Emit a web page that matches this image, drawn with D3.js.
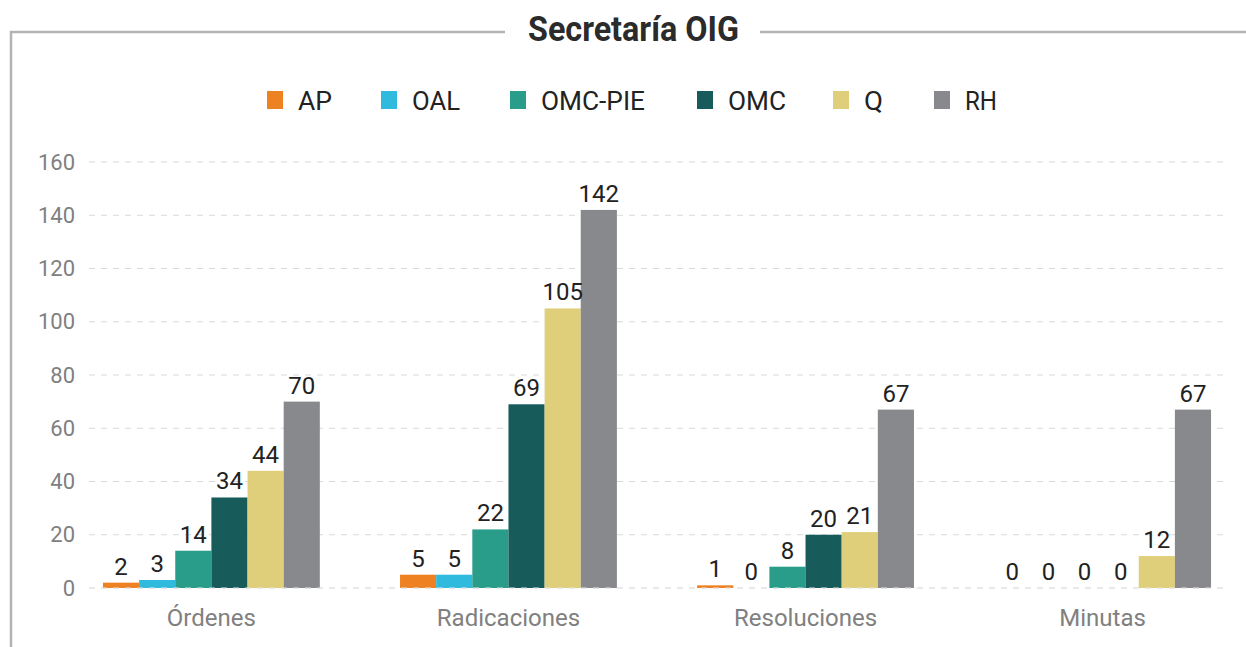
<!DOCTYPE html>
<html>
<script src="https://d3js.org/d3.v7.min.js"></script>
<style>
    body { margin: 0; background: #fff; }
    text { font-family: Roboto, "Liberation Sans", sans-serif; }
</style>
<body>
<svg width="1246" height="647"></svg>
<script>
    const categories = ['Órdenes', 'Radicaciones', 'Resoluciones', 'Minutas'];
    const seriesNames = ['AP', 'OAL', 'OMC-PIE', 'OMC', 'Q', 'RH'];
    const seriesColors = ['#ee8122', '#2fbade', '#2a9c8a', '#175c5a', '#e0cf7a', '#88898d'];
    const apValues = [2, 5, 1, 0];
    const oalValues = [3, 5, 0, 0];
    const omcPieValues = [14, 22, 8, 0];
    const omcValues = [34, 69, 20, 0];
    const qValues = [44, 105, 21, 12];
    const rhValues = [70, 142, 67, 67];
    const yTicks = [0, 20, 40, 60, 80, 100, 120, 140, 160];

    const seriesValues = [apValues, oalValues, omcPieValues, omcValues, qValues, rhValues];

    const svg = d3.select('svg');

    // frame and title
    svg.append('path')
        .attr('d', 'M505,32 H11 V647')
        .attr('fill', 'none').attr('stroke', '#b3b3b5').attr('stroke-width', 2.5);
    svg.append('line')
        .attr('x1', 760).attr('x2', 1246).attr('y1', 32).attr('y2', 32)
        .attr('stroke', '#b3b3b5').attr('stroke-width', 2.5);
    svg.append('text')
        .attr('x', 528).attr('y', 41)
        .attr('textLength', 211).attr('lengthAdjust', 'spacingAndGlyphs')
        .style('font-weight', 'bold')
        .style('font-size', '35px')
        .attr('fill', '#2b2b2b')
        .text('Secretaría OIG');

    const y = d3.scaleLinear().domain([0, 160]).range([588, 162]);
    const x0 = d3.scaleBand().domain(categories).range([89, 1225])
        .paddingInner(0.27).paddingOuter(0.047);
    const x1 = d3.scaleBand().domain(seriesNames).range([0, x0.bandwidth()]);

    // gridlines
    svg.append('g').selectAll('line')
        .data(yTicks).enter().append('line')
        .attr('x1', 89).attr('x2', 1225)
        .attr('y1', d => y(d)).attr('y2', d => y(d))
        .attr('stroke', '#d9d9d9').attr('stroke-width', 1.2)
        .attr('stroke-dasharray', '6,6');

    // y axis labels
    const yAxis = svg.append('g').attr('transform', 'translate(89,0)')
        .call(d3.axisLeft(y).tickValues(yTicks).tickSize(0).tickPadding(14));
    yAxis.select('.domain').remove();
    yAxis.selectAll('text')
        .style('font-size', '22px').attr('fill', '#808080')
        .style('font-family', 'Roboto, sans-serif');

    // bars
    const groups = svg.append('g').selectAll('g')
        .data(categories).enter().append('g')
        .attr('transform', d => 'translate(' + x0(d) + ',0)');

    groups.selectAll('rect')
        .data((c, ci) => seriesNames.map((s, si) => ({ s: s, si: si, v: seriesValues[si][ci] })))
        .enter().append('rect')
        .attr('x', d => x1(d.s))
        .attr('width', x1.bandwidth())
        .attr('y', d => y(d.v))
        .attr('height', d => y(0) - y(d.v))
        .attr('fill', d => seriesColors[d.si]);

    groups.selectAll('text.val')
        .data((c, ci) => seriesNames.map((s, si) => ({ s: s, si: si, v: seriesValues[si][ci] })))
        .enter().append('text')
        .attr('class', 'val')
        .attr('x', d => x1(d.s) + x1.bandwidth() / 2)
        .attr('y', d => y(d.v) - 8)
        .attr('text-anchor', 'middle')
        .style('font-size', '24px')
        .attr('fill', '#222')
        .text(d => d.v);

    // zero line dashes over bars
    svg.append('line')
        .attr('x1', 89).attr('x2', 1225).attr('y1', y(0)).attr('y2', y(0))
        .attr('stroke', '#e6e6e6').attr('stroke-width', 1.2)
        .attr('stroke-dasharray', '6,6');

    // category labels
    const xAxis = svg.append('g').attr('transform', 'translate(0,' + y(0) + ')')
        .call(d3.axisBottom(x0).tickSize(0).tickPadding(21));
    xAxis.select('.domain').remove();
    xAxis.selectAll('text')
        .style('font-size', '24px').attr('fill', '#808080')
        .style('font-family', 'Roboto, sans-serif');

    // legend
    const legendX = [267, 381, 510, 697, 833, 934];
    const legendTextW = [34, 48, 104, 58, 19, 32];
    const legend = svg.append('g').selectAll('g')
        .data(seriesNames).enter().append('g')
        .attr('transform', (d, i) => 'translate(' + legendX[i] + ',91)');
    legend.append('rect')
        .attr('width', 16).attr('height', 18)
        .attr('fill', (d, i) => seriesColors[i]);
    legend.append('text')
        .attr('x', 31).attr('y', 19)
        .attr('textLength', (d, i) => legendTextW[i])
        .attr('lengthAdjust', 'spacingAndGlyphs')
        .style('font-size', '25px')
        .attr('fill', '#222')
        .text(d => d);
</script>
</body>
</html>
